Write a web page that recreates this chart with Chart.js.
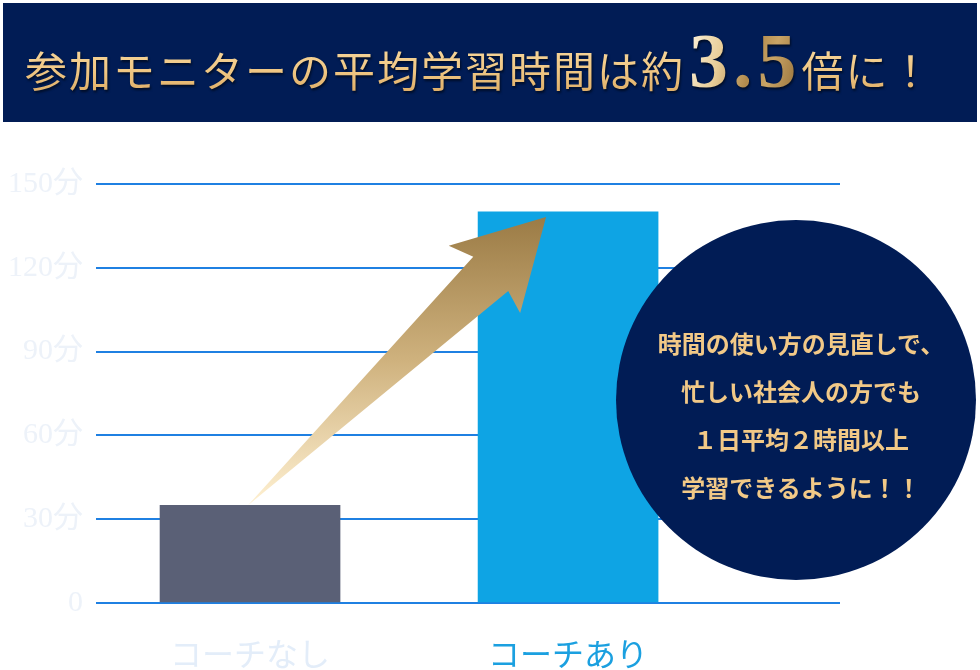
<!DOCTYPE html>
<html lang="ja">
<head>
<meta charset="utf-8">
<title>参加モニターの平均学習時間</title>
<script src="https://cdn.jsdelivr.net/npm/chart.js@4.4.1/dist/chart.umd.min.js"></script>
<style>
  html, body { margin: 0; padding: 0; background: #fff; }
  #wrap { position: relative; width: 980px; height: 670px; overflow: hidden; }
  #salesChart { position: absolute; left: 0; top: 0; }
  .banner {
    position: absolute; left: 3px; top: 3px; width: 974px; height: 119px;
    background: #011c55;
  }
  .title {
    position: absolute; left: 22px; top: 28px; white-space: nowrap;
    font-family: 'Noto Sans CJK JP', sans-serif; font-size: 42px; letter-spacing: 2px;
    line-height: 60px;
    filter: drop-shadow(1px 2px 1px rgba(0, 0, 0, 0.55));
  }
  .title .g {
    background: linear-gradient(180deg, #f9dca4 0%, #efc683 55%, #d9a65f 100%);
    -webkit-background-clip: text; background-clip: text; color: transparent;
  }
  .title .num {
    font-family: 'Liberation Serif', serif; font-weight: bold; font-size: 78px;
    letter-spacing: 5px; margin-left: 4px;
    background: linear-gradient(105deg, #fff6e2 0%, #e8cd98 30%, #b18a4c 55%, #c9a466 70%, #8a6530 100%);
    -webkit-background-clip: text; background-clip: text; color: transparent;
  }
  .circle {
    position: absolute; left: 616px; top: 220px; width: 360px; height: 360px;
    border-radius: 50%; background: #011c55;
    box-sizing: border-box; padding-top: 99px; padding-left: 10px;
    text-align: center; color: #f2c987;
    font-family: 'Noto Sans CJK JP', sans-serif; font-weight: bold; font-size: 24px;
    line-height: 48px;
  }
</style>
</head>
<body>
<div id="wrap">
  <canvas id="salesChart" width="980" height="670"></canvas>
  <div class="banner">
    <div class="title"><span class="g">参加モニターの平均学習時間は約</span><span class="num">3.5</span><span class="g">倍に！</span></div>
  </div>
  <div class="circle">時間の使い方の見直しで、<br>忙しい社会人の方でも<br>１日平均２時間以上<br>学習できるように！！</div>
</div>
<script>
  // chart values
  const categories = ['コーチなし', 'コーチあり'];
  const minutes = [35, 140];
  const yTickLabels = ['0', '30分', '60分', '90分', '120分', '150分'];

  const barColors = ['#5a6076', '#0ea4e4'];
  const labelColors = ['#e3edf9', '#1ba0e0'];

  // gold arrow from the first bar up to the second one
  const arrowPlugin = {
    id: 'arrow',
    afterDatasetsDraw(chart) {
      const bars = chart.getDatasetMeta(0).data;
      const ctx = chart.ctx;
      const x0 = bars[0].x - 2, y0 = bars[0].y;
      const x1 = bars[1].x - 22, y1 = bars[1].y + 5;
      const L = Math.hypot(x1 - x0, y1 - y0);
      const ux = (x1 - x0) / L, uy = (y1 - y0) / L;
      const nx = -uy, ny = ux;
      const pt = (a, p) => [x0 + ux * a * L + nx * p, y0 + uy * a * L + ny * p];

      const pts = [
        [x0, y0],
        pt(0.807, -22),
        pt(0.783, -47),
        [x1, y1],
        pt(0.794, 51),
        pt(0.81, 27)
      ];

      const grad = ctx.createLinearGradient(0, y1, 0, y0);
      grad.addColorStop(0, '#9b7b45');
      grad.addColorStop(0.5, '#cfb27e');
      grad.addColorStop(1, '#fff1d2');

      ctx.save();
      ctx.beginPath();
      ctx.moveTo(pts[0][0], pts[0][1]);
      for (let i = 1; i < pts.length; i++) ctx.lineTo(pts[i][0], pts[i][1]);
      ctx.closePath();
      ctx.fillStyle = grad;
      ctx.fill();
      ctx.restore();
    }
  };

  const chartData = {
    datasets: [{
      data: categories.map((c, i) => ({ x: i, y: minutes[i] })),
      backgroundColor: barColors,
      borderWidth: 0,
      barThickness: 180
    }]
  };

  const config = {
    type: 'bar',
    data: chartData,
    options: {
      responsive: false,
      animation: false,
      layout: {
        padding: { top: 184, right: 140, left: 0, bottom: 0 }
      },
      plugins: {
        legend: { display: false },
        tooltip: { enabled: false }
      },
      scales: {
        x: {
          type: 'linear',
          offset: false,
          min: -0.4843,
          max: 1.855,
          afterBuildTicks: scale => {
            scale.ticks = categories.map((c, i) => ({ value: i }));
          },
          afterFit: scale => { scale.height = 67; },
          grid: { display: false },
          border: { display: false },
          ticks: {
            autoSkip: false,
            maxRotation: 0,
            padding: 24,
            callback: (value, index) => categories[index],
            color: ctx => labelColors[ctx.index],
            font: { family: "'Noto Sans CJK JP', sans-serif", size: 32 }
          }
        },
        y: {
          min: 0,
          max: 150,
          afterFit: scale => { scale.width = 96; },
          grid: {
            color: '#1f80e2',
            lineWidth: 2,
            drawTicks: false
          },
          border: { display: false },
          ticks: {
            stepSize: 30,
            padding: 13,
            callback: (value, index) => yTickLabels[index],
            color: '#edf2f9',
            font: { family: "'Liberation Serif', 'Noto Sans CJK JP', serif", size: 30 }
          }
        }
      }
    },
    plugins: [arrowPlugin]
  };

  const salesChart = new Chart(document.getElementById('salesChart'), config);
</script>
</body>
</html>
